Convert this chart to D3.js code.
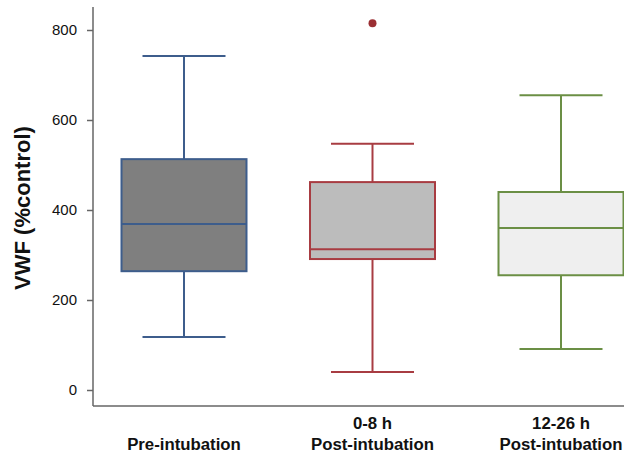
<!DOCTYPE html>
<html><head><meta charset="utf-8">
<script src="https://cdn.jsdelivr.net/npm/d3@7"></script>
<style>body{margin:0;background:#fff}svg{display:block}text{font-family:"Liberation Sans",Arial,Helvetica,sans-serif}</style>
</head><body><svg id="c" width="624" height="456"></svg>
<script>
const categories = ["Pre-intubation", "0-8 h|Post-intubation", "12-26 h|Post-intubation"];
const whiskerLow  = [118, 40, 91];
const q1          = [264, 291, 255];
const medians     = [369, 313, 360];
const q3          = [513, 462, 440];
const whiskerHigh = [742, 547, 655];
const outliers    = [[], [815], []];
const yTicks      = [0, 200, 400, 600, 800];
const fills   = ["#7f7f7f", "#bcbcbc", "#efefef"];
const strokes = ["#3d5d8c", "#a83c42", "#6b8f45"];

const svg = d3.select("#c");
const y = d3.scaleLinear().domain([0, 800]).range([390, 30]);
const x = d3.scalePoint().domain(categories).range([184, 561]);
const boxW = 125, capW = 83;
const axisColor = "#666";

// axes
svg.append("line").attr("x1", 93).attr("x2", 93).attr("y1", 7).attr("y2", 406)
  .attr("stroke", axisColor).attr("stroke-width", 1.5);
svg.append("line").attr("x1", 93).attr("x2", 624).attr("y1", 406).attr("y2", 406)
  .attr("stroke", axisColor).attr("stroke-width", 1.5);
const yAxis = svg.append("g").attr("transform", "translate(93,0)")
  .call(d3.axisLeft(y).tickValues(yTicks).tickSize(6).tickPadding(10));
yAxis.select(".domain").remove();
yAxis.selectAll(".tick line").attr("stroke", axisColor).attr("stroke-width", 1.5);
yAxis.selectAll(".tick text").attr("font-size", 15).attr("fill", "#111")
  .style("font-family", "'Liberation Sans',Arial,sans-serif");

svg.append("text").attr("transform", "translate(30,208) rotate(-90)")
  .attr("text-anchor", "middle").attr("font-size", 22).attr("font-weight", "bold")
  .attr("fill", "#111").text("VWF (%control)");

// boxes
const g = svg.selectAll("g.box").data(categories).enter().append("g").attr("class", "box");
g.each(function(c, i) {
  const s = d3.select(this), cx = x(c);
  s.append("line").attr("x1", cx).attr("x2", cx).attr("y1", y(whiskerHigh[i])).attr("y2", y(q3[i]))
    .attr("stroke", strokes[i]).attr("stroke-width", 2);
  s.append("line").attr("x1", cx).attr("x2", cx).attr("y1", y(q1[i])).attr("y2", y(whiskerLow[i]))
    .attr("stroke", strokes[i]).attr("stroke-width", 2);
  [whiskerHigh[i], whiskerLow[i]].forEach(v => s.append("line")
    .attr("x1", cx - capW / 2).attr("x2", cx + capW / 2).attr("y1", y(v)).attr("y2", y(v))
    .attr("stroke", strokes[i]).attr("stroke-width", 2));
  s.append("rect").attr("x", cx - boxW / 2).attr("width", boxW)
    .attr("y", y(q3[i])).attr("height", y(q1[i]) - y(q3[i]))
    .attr("fill", fills[i]).attr("stroke", strokes[i]).attr("stroke-width", 2);
  s.append("line").attr("x1", cx - boxW / 2).attr("x2", cx + boxW / 2)
    .attr("y1", y(medians[i])).attr("y2", y(medians[i]))
    .attr("stroke", strokes[i]).attr("stroke-width", 2);
  outliers[i].forEach(v => s.append("circle").attr("cx", cx).attr("cy", y(v)).attr("r", 4)
    .attr("fill", "#9b2f33"));
  const lines = c.split("|");
  lines.forEach((t, k) => s.append("text").attr("x", cx)
    .attr("y", 450 - (lines.length - 1 - k) * 21)
    .attr("text-anchor", "middle").attr("font-size", 16.8).attr("font-weight", "bold")
    .attr("fill", "#111").text(t));
});
</script></body></html>
